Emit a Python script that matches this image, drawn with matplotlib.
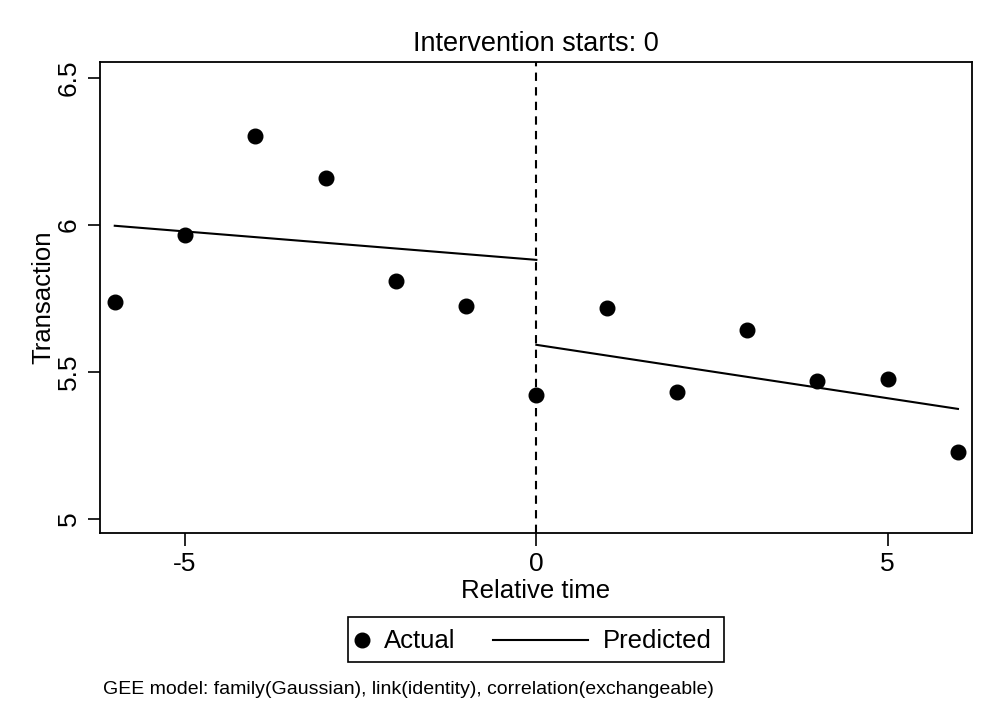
import matplotlib
matplotlib.use("Agg")
import matplotlib.pyplot as plt
from matplotlib.lines import Line2D
from matplotlib.patches import Rectangle

plt.rcParams['font.family'] = ['Liberation Sans', 'DejaVu Sans']

rel_time = [-6, -5, -4, -3, -2, -1, 0, 1, 2, 3, 4, 5, 6]
actual = [5.738, 5.966, 6.303, 6.160, 5.810, 5.724, 5.422, 5.718, 5.432, 5.643, 5.469, 5.476, 5.228]
pre_x = [-6, 0]
pre_pred = [5.997, 5.881]
post_x = [0, 6]
post_pred = [5.592, 5.374]
yticks = [5, 5.5, 6, 6.5]
ytick_labels = ["5", "5.5", "6", "6.5"]
xticks = [-5, 0, 5]
xtick_labels = ["-5", "0", "5"]
legend_labels = ["Actual", "Predicted"]

W, H = 1000, 727
fig = plt.figure(figsize=(10, 7.27), dpi=100)
ax = fig.add_axes([0.100, 0.2669, 0.872, 0.6478])

ax.plot(rel_time, actual, 'o', color='black', markersize=10.5, linestyle='none', zorder=3)
ax.plot(pre_x, pre_pred, color='black', lw=1.5)
ax.plot(post_x, post_pred, color='black', lw=1.5)
ax.axvline(0, color='black', lw=1.5, linestyle=(0, (4, 3)))

ax.set_xlim(-6.21, 6.2)
ax.set_ylim(4.952, 6.554)
ax.set_xticks(xticks)
ax.set_xticklabels(xtick_labels, fontsize=19)
ax.set_yticks(yticks)
ax.set_yticklabels(ytick_labels, fontsize=19, rotation=90, va='center')
ax.tick_params(direction='out', length=9, width=1.2, pad=5)
for s in ax.spines.values():
    s.set_linewidth(1.3)

ax.set_xlabel("Relative time", fontsize=18.5, labelpad=2)
ax.set_ylabel("Transaction", fontsize=18.5, labelpad=1)
ax.set_title("Intervention starts: 0", fontsize=19.5, pad=8)

# legend (drawn manually to mimic Stata layout)
def fx(px):
    return px / W

def fy(py):
    return 1 - py / H

fig.patches.append(Rectangle((fx(348), fy(662)), fx(724) - fx(348), fy(617) - fy(662),
                             transform=fig.transFigure, fill=False, edgecolor='black', lw=1.2))
fig.lines.append(Line2D([fx(362)], [fy(640)], marker='o', color='black', markersize=10.5,
                        linestyle='none', transform=fig.transFigure))
fig.text(fx(384), fy(641), legend_labels[0], fontsize=18.5, ha='left', va='center')
fig.lines.append(Line2D([fx(493), fx(588)], [fy(640), fy(640)], color='black', lw=1.5,
                        transform=fig.transFigure))
fig.text(fx(603), fy(641), legend_labels[1], fontsize=18.5, ha='left', va='center')

fig.text(fx(103), fy(689), "GEE model: family(Gaussian), link(identity), correlation(exchangeable)",
         fontsize=14, ha='left', va='center')

fig.savefig("out.png", dpi=100)
